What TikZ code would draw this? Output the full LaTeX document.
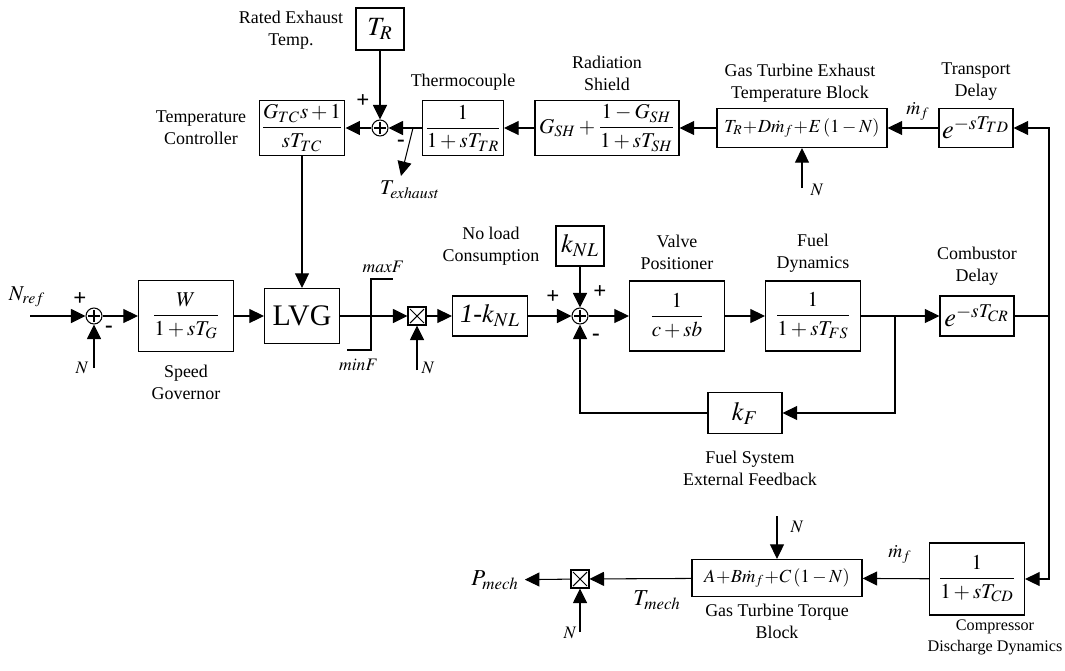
\documentclass[tikz,border=0pt]{standalone}
\usepackage{amsmath}
\usepackage{mathptmx}
\usepackage{fontspec}
\setmainfont{Liberation Serif}
\usetikzlibrary{arrows.meta, positioning}

\newcommand{\lblfont}{\fontsize{10.2}{12.5}\selectfont}
\newcommand{\boxfont}{\fontsize{12}{14}\selectfont}
\newcommand{\exfont}{\fontsize{10.5}{12}\selectfont}
\newcommand{\bigfont}{\fontsize{15}{17}\selectfont}

\tikzset{
  block/.style={draw, line width=0.7pt, inner sep=1pt, font=\boxfont},
  sumjn/.style={draw, circle, line width=0.6pt, minimum size=0.32cm, inner sep=0pt,
    path picture={
      \draw[line width=0.6pt] ([yshift=-0.12cm]path picture bounding box.center) -- ([yshift=0.12cm]path picture bounding box.center);
      \draw[line width=0.6pt] ([xshift=-0.12cm]path picture bounding box.center) -- ([xshift=0.12cm]path picture bounding box.center);
    }},
  multjn/.style={draw, rectangle, line width=0.6pt, minimum size=0.36cm, inner sep=0pt,
    path picture={
      \draw[line width=0.6pt] ([shift={(0.04cm,-0.04cm)}]path picture bounding box.north west) -- ([shift={(-0.04cm,0.04cm)}]path picture bounding box.south east);
      \draw[line width=0.6pt] ([shift={(-0.04cm,-0.04cm)}]path picture bounding box.north east) -- ([shift={(0.04cm,0.04cm)}]path picture bounding box.south west);
    }},
  lbl/.style={align=center, font=\lblfont},
  sig/.style={font=\fontsize{11}{12}\selectfont},
  sign/.style={font=\fontsize{13}{13}\selectfont\bfseries, inner sep=0pt},
  flow/.style={-{Triangle[length=0.29cm,width=0.28cm]}, line width=0.6pt},
  wire/.style={line width=0.6pt}
}

\begin{document}
\begin{tikzpicture}[x=0.02cm, y=-0.02cm]

\useasboundingbox (0,0) rectangle (1065,670);

% Exhaust temperature loop (top row)
\node[block, minimum width=1.62cm, minimum height=1.10cm] (tctrl) at (302,128) {$\dfrac{G_{TC}s+1}{sT_{TC}}$};
\node[sumjn] (sumT) at (380,128) {};
\node[block, minimum width=0.96cm, minimum height=0.84cm, font=\bigfont] (trate) at (380,29) {$T_R$};
\node[block, minimum width=1.62cm, minimum height=1.10cm] (thermo) at (463,128) {$\dfrac{1}{1+sT_{TR}}$};
\node[block, minimum width=2.88cm, minimum height=1.10cm] (shield) at (607,128) {$G_{SH}+\dfrac{1-G_{SH}}{1+sT_{SH}}$};
\node[block, minimum width=3.40cm, minimum height=0.78cm, font=\exfont] (exhblk) at (802,128) {$T_R\!+\!D\dot{m}_f\!+\!E\left(1-N\right)$};
\node[block, minimum width=1.48cm, minimum height=0.78cm, font=\bigfont] (tdelay) at (976,128) {$e^{-sT_{TD}}$};

% Speed and fuel path (middle row)
\node[sumjn] (sumN) at (94,316) {};
\node[block, minimum width=1.90cm, minimum height=1.42cm] (gov) at (186,316) {$\dfrac{W}{1+sT_G}$};
\node[block, minimum width=1.50cm, minimum height=1.10cm, font=\fontsize{17}{19}\selectfont] (lvg) at (302,316) {LVG};
\node[multjn] (mulN) at (417,316) {};
\node[block, minimum width=1.50cm, minimum height=0.80cm, font=\bigfont] (noload) at (490,316) {\itshape 1-$k_{NL}$};
\node[sumjn] (sumF) at (580,316) {};
\node[block, minimum width=0.96cm, minimum height=0.80cm, font=\bigfont] (knl) at (580,246) {$k_{NL}$};
\node[block, minimum width=1.90cm, minimum height=1.40cm] (valve) at (677,316) {$\dfrac{1}{c+sb}$};
\node[block, minimum width=1.90cm, minimum height=1.40cm] (fuel) at (813,316) {$\dfrac{1}{1+sT_{FS}}$};
\node[block, minimum width=1.48cm, minimum height=0.80cm, font=\bigfont] (cdelay) at (977,316) {$e^{-sT_{CR}}$};
\node[block, minimum width=1.48cm, minimum height=0.82cm, font=\bigfont] (kfb) at (745,413) {$k_F$};

% Torque output (bottom row)
\node[block, minimum width=1.90cm, minimum height=1.44cm] (cdisch) at (977,579) {$\dfrac{1}{1+sT_{CD}}$};
\node[block, minimum width=3.40cm, minimum height=0.74cm, font=\exfont] (torque) at (777,578) {$A\!+\!B\dot{m}_f\!+\!C\left(1-N\right)$};
\node[multjn] (mulP) at (580,579) {};
\node[font=\fontsize{13}{14}\selectfont] (pmech) at (495,580) {$P_{mech}$};

% Free ends
\coordinate (nref) at (30,316);
\coordinate (nin) at (94,368);
\coordinate (nmul) at (417,370);
\coordinate (nexh) at (802,188);
\coordinate (ntq) at (777,516);
\coordinate (nmulP) at (580,632);
\coordinate (fork) at (895,316);
\coordinate (split) at (1049,316);
\coordinate (tap) at (413,128);
\coordinate (texh) at (401,176);

% Limiter
\draw[wire] (347,350) -- (371,350) -- (371,279) -- (393,279);

% Connectors
\draw[flow] (trate) -- (sumT);
\draw[flow] (thermo) -- (sumT);
\draw[flow] (sumT) -- (tctrl);
\draw[flow] (shield) -- (thermo);
\draw[flow] (exhblk) -- (shield);
\draw[flow] (tdelay) -- (exhblk);
\draw[flow] (nexh) -- (exhblk);
\draw[flow] (tap) -- (texh);
\draw[flow] (tctrl) -- (lvg);
\draw[flow] (nref) -- (sumN);
\draw[flow] (nin) -- (sumN);
\draw[flow] (sumN) -- (gov);
\draw[flow] (gov) -- (lvg);
\draw[flow] (lvg) -- (mulN);
\draw[flow] (nmul) -- (mulN);
\draw[flow] (mulN) -- (noload);
\draw[flow] (noload) -- (sumF);
\draw[flow] (knl) -- (sumF);
\draw[flow] (sumF) -- (valve);
\draw[flow] (valve) -- (fuel);
\draw[flow] (fuel) -- (cdelay);
\draw[flow] (fork) |- (kfb);
\draw[flow] (kfb) -| (sumF);
\draw[wire] (cdelay) -- (split);
\draw[flow] (split) |- (tdelay);
\draw[flow] (split) |- (cdisch);
\draw[flow] (cdisch) -- (torque);
\draw[flow] (ntq) -- (torque);
\draw[flow] (torque) -- (mulP);
\draw[flow] (nmulP) -- (mulP);
\draw[flow] (mulP) -- (pmech);

% Block labels
\node[lbl] (lrated) at (291,30) {Rated Exhaust\\Temp.};
\node[lbl] (ltctrl) at (201,128) {Temperature\\Controller};
\node[lbl] (lthermo) at (463,82) {Thermocouple};
\node[lbl] (lshield) at (607,73) {Radiation\\Shield};
\node[lbl] (lexh) at (800,83) {Gas Turbine Exhaust\\Temperature Block};
\node[lbl] (ltdelay) at (976,82) {Transport\\Delay};
\node[lbl] (lgov) at (186,382) {Speed\\Governor};
\node[lbl] (lnoload) at (491,246) {No load\\Consumption};
\node[lbl] (lvalve) at (677,252) {Valve\\Positioner};
\node[lbl] (lfuel) at (813,253) {Fuel\\Dynamics};
\node[lbl] (lcdelay) at (977,266) {Combustor\\Delay};
\node[lbl] (lkfb) at (750,468) {Fuel System\\External Feedback};
\node[lbl] (ltorque) at (777,621) {Gas Turbine Torque\\Block};
\node[lbl, font=\fontsize{9.2}{12}\selectfont] (lcdisch) at (995,637) {Compressor\\Discharge Dynamics};

% Signal labels
\node[sig, font=\fontsize{12}{13}\selectfont] (lnref) at (27,297) {$N_{ref}$};
\node[sig, font=\fontsize{10}{11}\selectfont] (lnin) at (82,368) {$N$};
\node[sig, font=\fontsize{10}{11}\selectfont] (lmaxf) at (383,267) {$\mathit{maxF}$};
\node[sig, font=\fontsize{10}{11}\selectfont] (lminf) at (358,365) {$\mathit{minF}$};
\node[sig, font=\fontsize{10}{11}\selectfont] (lnmul) at (428,368) {$N$};
\node[sig, font=\fontsize{10}{11}\selectfont] (lnexh) at (817,190) {$N$};
\node[sig] (lmf1) at (918,111) {$\dot{m}_f$};
\node[sig, font=\fontsize{12}{13}\selectfont] (ltexh) at (410,190) {$T_{exhaust}$};
\node[sig, font=\fontsize{10}{11}\selectfont] (lntq) at (797,527) {$N$};
\node[sig] (lmf2) at (900,554) {$\dot{m}_f$};
\node[sig, font=\fontsize{13}{14}\selectfont] (ltmech) at (657,600) {$T_{mech}$};
\node[sig, font=\fontsize{10}{11}\selectfont] (lnmulP) at (570,633) {$N$};

% Signs at the junctions
\node[sign] (sN1) at (80,299) {+};
\node[sign] (sN2) at (109,329) {-};
\node[sign] (sT1) at (363,101) {+};
\node[sign] (sT2) at (401,143) {-};
\node[sign] (sF1) at (553,297) {+};
\node[sign] (sF2) at (600,292) {+};
\node[sign] (sF3) at (596,337) {-};

\end{tikzpicture}
\end{document}
